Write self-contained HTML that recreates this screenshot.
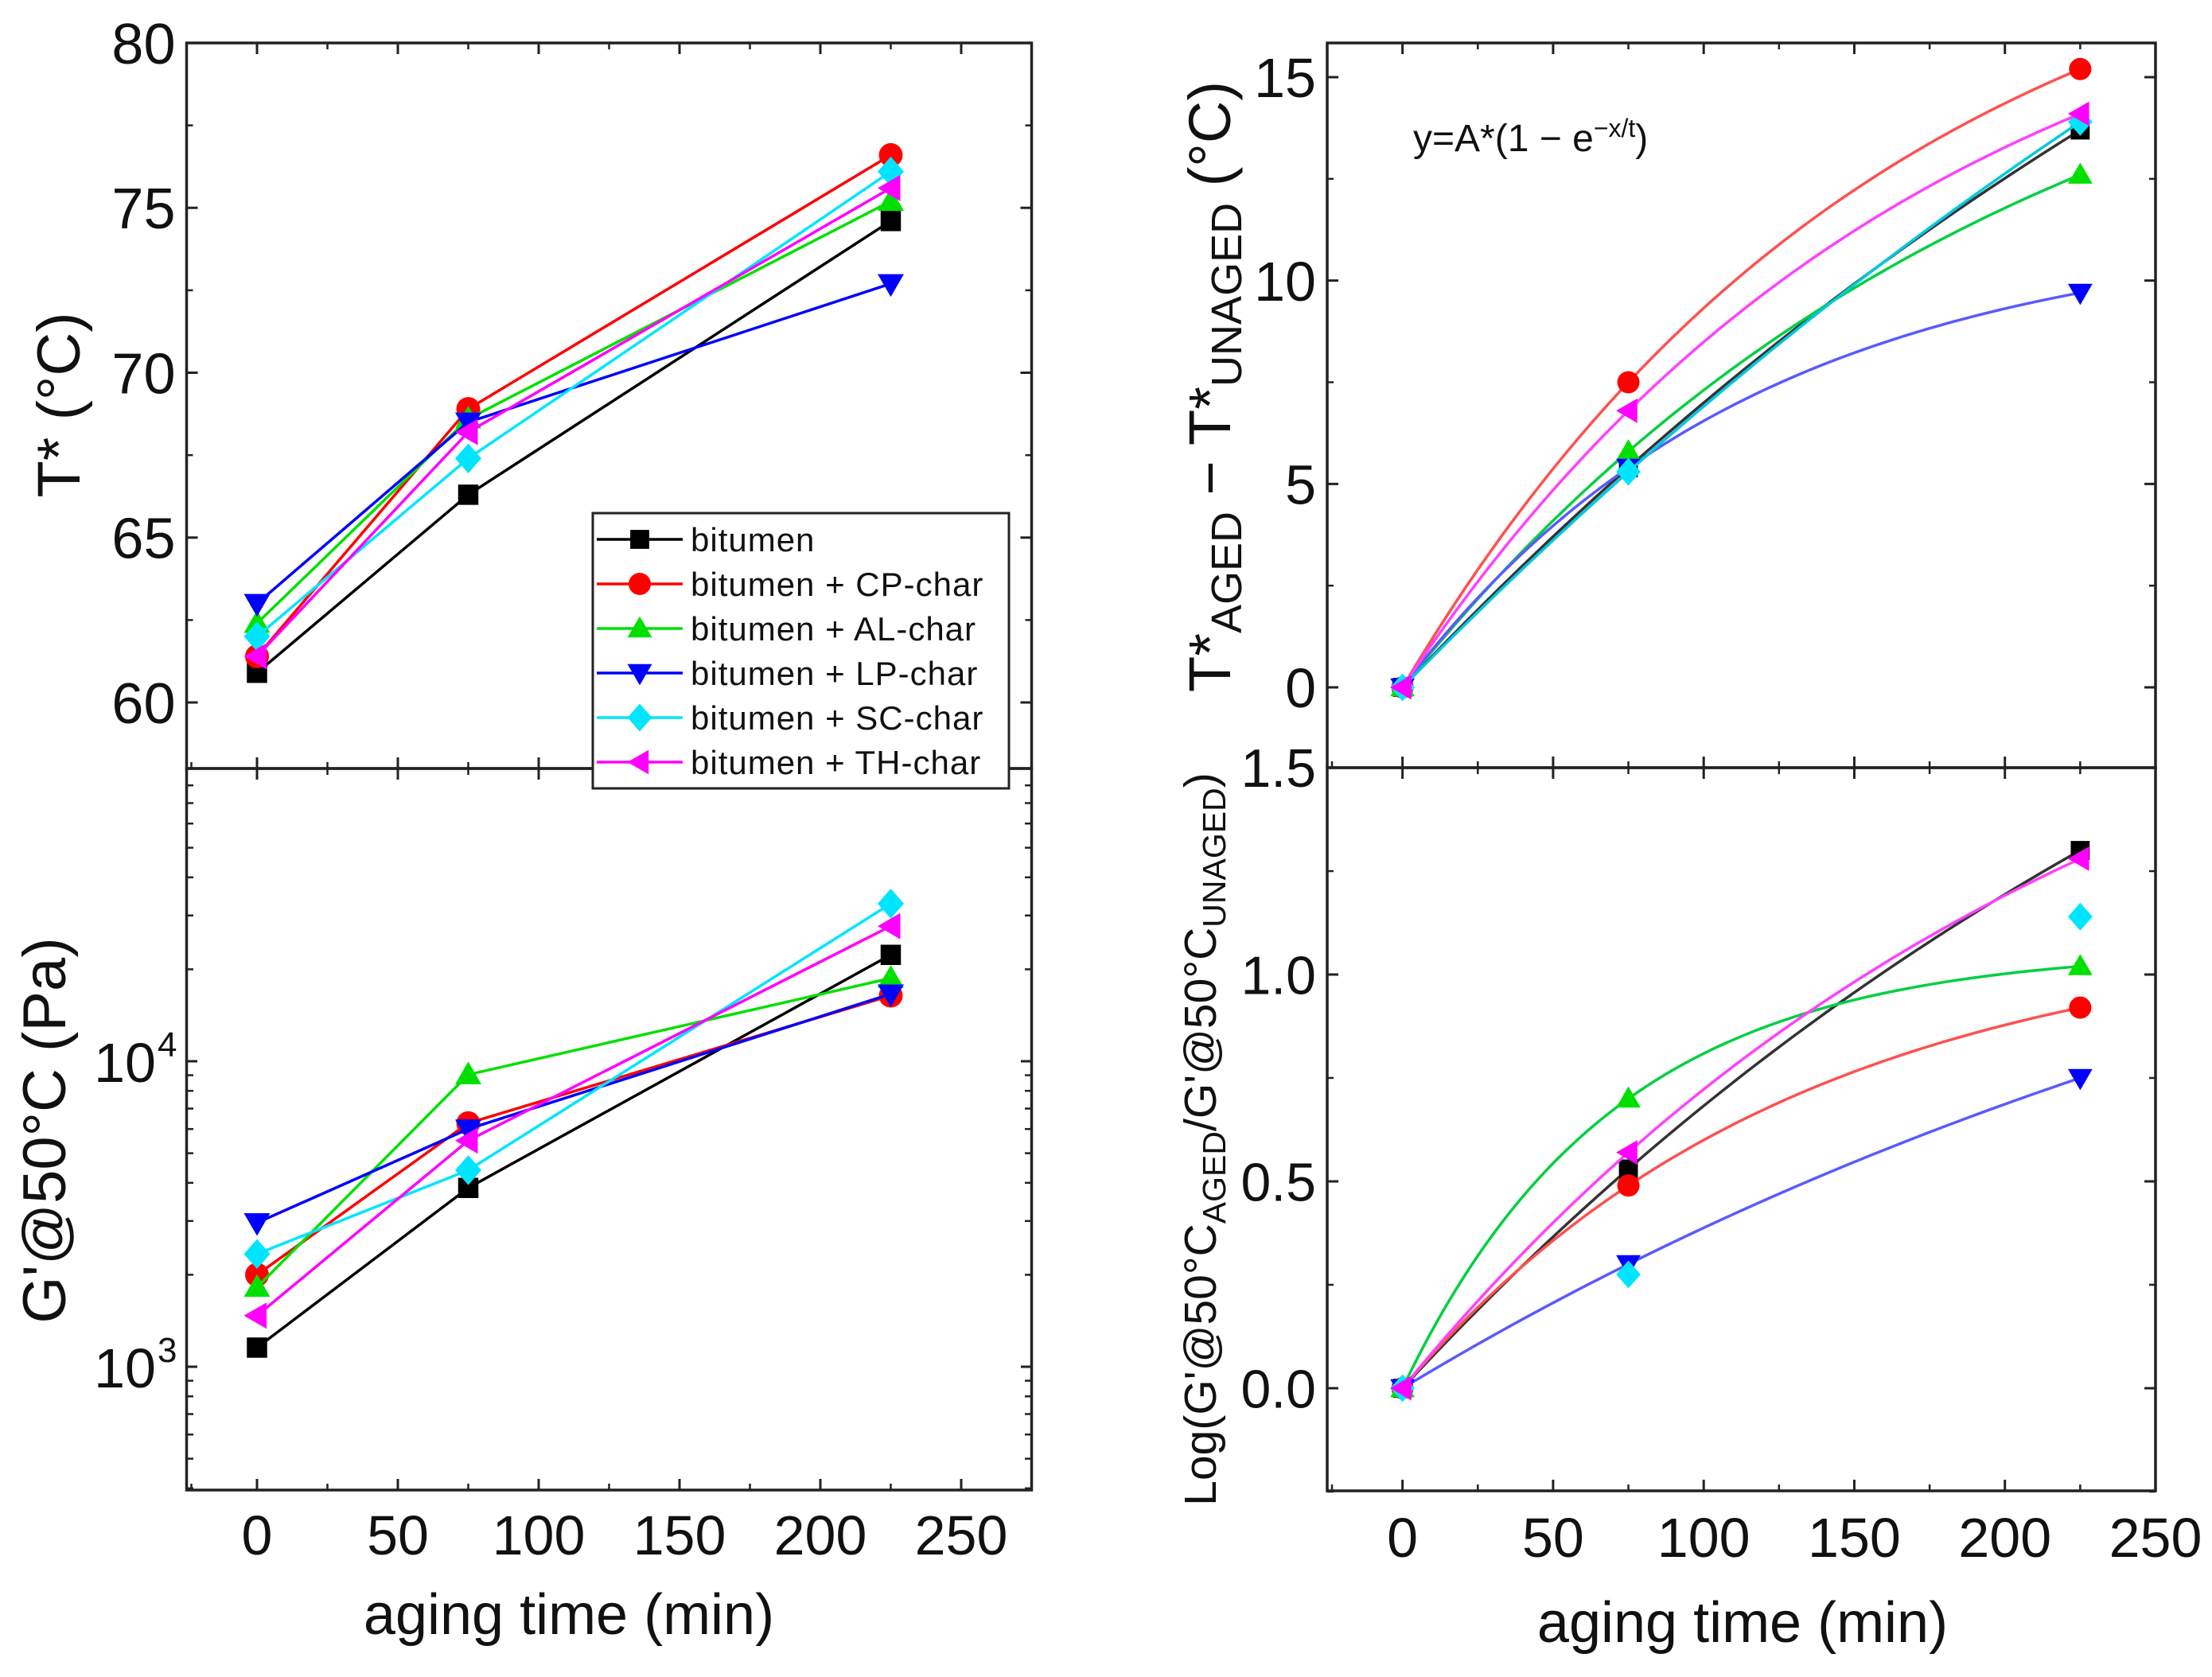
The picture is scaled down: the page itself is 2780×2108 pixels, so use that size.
<!DOCTYPE html>
<html><head><meta charset="utf-8"><style>
html,body{margin:0;padding:0;background:#fff}
svg{display:block;font-family:"Liberation Sans",Arial,sans-serif}
</style></head><body>
<svg id="chart" width="2780" height="2108" viewBox="0 0 2780 2108" xmlns="http://www.w3.org/2000/svg"></svg>
<script>
const times = [0, 75, 225];
const seriesNames = ["bitumen","bitumen + CP-char","bitumen + AL-char","bitumen + LP-char","bitumen + SC-char","bitumen + TH-char"];
const tStar = [[60.9,66.3,74.6],[61.4,68.9,76.6],[62.4,68.6,75.2],[63.0,68.5,72.7],[62.0,67.4,76.1],[61.4,68.2,75.6]];
const gPrime = [[1155,3850,22300],[2000,6270,16400],[1820,9040,18700],[2960,6000,16600],[2340,4400,32800],[1470,5500,27700]];
const dT = [[0,5.4,13.7],[0,7.5,15.2],[0,5.8,12.6],[0,5.4,9.7],[0,5.3,13.9],[0,6.8,14.1]];
const logRatio = [[0,0.53,1.30],[0,0.49,0.92],[0,0.70,1.02],[0,0.30,0.75],[0,0.275,1.14],[0,0.57,1.28]];
const logFitted = [true,true,true,true,false,true];
const xTicks = [0,50,100,150,200,250];
const tTicks = [60,65,70,75,80];
const gTicks = [3,4];
const dTTicks = [0,5,10,15];
const lrTicks = [0.0,0.5,1.0,1.5];

const colors = ["#000000","#ff0000","#00e000","#0000ff","#00e5ff","#ff00ff"];
const fitColors = ["#333333","#ff5050","#00d040","#5a5aff","#00c8e0","#ff40ff"];
const markers = ["square","circle","up","down","diamond","left"];
const NS="http://www.w3.org/2000/svg";
const svg=document.getElementById('chart');
function el(tag,attrs,parent){const e=document.createElementNS(NS,tag);for(const k in attrs)e.setAttribute(k,attrs[k]);(parent||svg).appendChild(e);return e;}
function lin(d0,d1,p0,p1){return v=>p0+(v-d0)*(p1-p0)/(d1-d0);}

const xL=lin(-25,275,234.5,1296.5);
const xR=lin(-25,250,1668,2709);
const yT=lin(60,80,883,54);
const yG=v=>1718-(Math.log10(v)-3)*384;
const yDT=lin(0,15,864,97);
const yLR=lin(0,1.5,1745,965);

function marker(g,type,cx,cy,color,s){
  let m;
  if(type==="square") m=el('rect',{x:cx-s*0.85,y:cy-s*0.85,width:s*1.7,height:s*1.7,fill:color},g);
  else if(type==="circle") m=el('circle',{cx:cx,cy:cy,r:s,fill:color},g);
  else {
    let p;
    if(type==="up") p=[[cx,cy-s*1.1],[cx+s*1.1,cy+s*0.8],[cx-s*1.1,cy+s*0.8]];
    else if(type==="down") p=[[cx,cy+s*1.1],[cx+s*1.1,cy-s*0.8],[cx-s*1.1,cy-s*0.8]];
    else if(type==="left") p=[[cx-s*1.1,cy],[cx+s*0.8,cy-s*1.1],[cx+s*0.8,cy+s*1.1]];
    else p=[[cx,cy-s*1.25],[cx+s*1.1,cy],[cx,cy+s*1.25],[cx-s*1.1,cy]];
    m=el('polygon',{points:p.map(a=>a.join(',')).join(' '),fill:color},g);
  }
  return m;
}
function frame(x0,y0,x1,y1,name){
  const r=el('rect',{x:x0,y:y0,width:x1-x0,height:y1-y0,fill:"none",stroke:"#222","stroke-width":3.5});
  
  
}
function xTicksDraw(xs,y0,y1,labelY,name,showLabels){
  const g=el('g',{});
  
  
  xTicks.forEach(v=>{
    const x=xs(v);
    el('line',{x1:x,y1:y1,x2:x,y2:y1-14,stroke:"#222","stroke-width":3},g);
    el('line',{x1:x,y1:y0,x2:x,y2:y0+14,stroke:"#222","stroke-width":3},g);
    const xm=xs(v+25);
    if(v+25<=xTicks[xTicks.length-1]+25){
      el('line',{x1:xm,y1:y1,x2:xm,y2:y1-8,stroke:"#222","stroke-width":2.5},g);
      el('line',{x1:xm,y1:y0,x2:xm,y2:y0+8,stroke:"#222","stroke-width":2.5},g);
    }
    if(showLabels){
      const t=el('text',{x:x,y:labelY,"font-size":70,"text-anchor":"middle",fill:"#111"},g);
      t.textContent=v;
    }
  });
  el('line',{x1:xs(-25)+6,y1:y1,x2:xs(-25)+6,y2:y1-8,stroke:"#222","stroke-width":2.5},g);
}
function yTicksDraw(vals,ys,x0,x1,fmt,fs,name,minor){
  const g=el('g',{});
  
  
  vals.forEach(v=>{
    const y=ys(v);
    el('line',{x1:x0,y1:y,x2:x0+14,y2:y,stroke:"#222","stroke-width":3},g);
    el('line',{x1:x1,y1:y,x2:x1-14,y2:y,stroke:"#222","stroke-width":3},g);
    const t=el('text',{x:x0-14,y:y+fs*0.36,"font-size":fs,"text-anchor":"end",fill:"#111"},g);
    t.textContent=fmt(v);
  });
  minor.forEach(v=>{
    const y=ys(v);
    el('line',{x1:x0,y1:y,x2:x0+8,y2:y,stroke:"#222","stroke-width":2.5},g);
    el('line',{x1:x1,y1:y,x2:x1-8,y2:y,stroke:"#222","stroke-width":2.5},g);
  });
}

frame(234.5,54,1296.5,966,"t-star-plot-frame");
frame(234.5,966,1296.5,1873,"g-prime-plot-frame");
frame(1668,54,2709,965,"delta-t-plot-frame");
frame(1668,965,2709,1874,"log-ratio-plot-frame");

xTicksDraw(xL,54,966,0,"t-star-x-ticks",false);
xTicksDraw(xL,966,1873,1954,"g-prime-x-axis",true);
xTicksDraw(xR,54,965,0,"delta-t-x-ticks",false);
xTicksDraw(xR,965,1874,1957,"log-ratio-x-axis",true);

yTicksDraw(tTicks,yT,234.5,1296.5,v=>v,72,"t-star-y-axis",[62.5,67.5,72.5,77.5]);
yTicksDraw(dTTicks,yDT,1668,2709,v=>v,70,"delta-t-y-axis",[2.5,7.5,12.5]);
yTicksDraw(lrTicks.slice(0,3),yLR,1668,2709,v=>v.toFixed(1),68,"log-ratio-y-axis",[-0.25,0.25,0.75,1.25]);
{ const t=el('text',{x:1654,y:yLR(1.5)+24,"font-size":68,"text-anchor":"end",fill:"#111"}); t.textContent="1.5";
    }

{
  const g=el('g',{});
  
  
  gTicks.forEach(e=>{
    const y=yG(Math.pow(10,e));
    el('line',{x1:234.5,y1:y,x2:248,y2:y,stroke:"#222","stroke-width":3},g);
    el('line',{x1:1296.5,y1:y,x2:1283,y2:y,stroke:"#222","stroke-width":3},g);
    const t=el('text',{x:196,y:y+26,"font-size":70,"text-anchor":"end",fill:"#111"},g);
    t.textContent="10";
    const s=el('text',{x:198,y:y-6,"font-size":44,"text-anchor":"start",fill:"#111"},g);
    s.textContent=e;
  });
  for(let e=2;e<=4;e++)for(let k=2;k<=9;k++){
    const v=k*Math.pow(10,e); const y=yG(v);
    if(y<970||y>1872) continue;
    el('line',{x1:234.5,y1:y,x2:243,y2:y,stroke:"#222","stroke-width":2.5},g);
    el('line',{x1:1296.5,y1:y,x2:1288,y2:y,stroke:"#222","stroke-width":2.5},g);
  }
}

function title(txt,x,y,fs,rot,name){
  const t=el('text',{x:x,y:y,"font-size":fs,"text-anchor":"middle",fill:"#111",transform:rot?`rotate(-90 ${x} ${y})`:""});
  
  
  if(typeof txt==="string") t.textContent=txt; else txt(t);
  return t;
}
title("T* (°C)",100,509,76,true,"t-star-y-title");
title("G'@50°C (Pa)",82,1421,76,true,"g-prime-y-title");
title("aging time (min)",715,2054,72,false,"left-x-axis-title");
title("aging time (min)",2190,2064,72,false,"right-x-axis-title");
title(t=>{
  const parts=[["T*",0,74],["AGED",14,54],[" − T*",-14,74],["UNAGED",14,54],[" (°C)",-14,74]];
  parts.forEach(p=>{const s=el('tspan',{dy:p[1],"font-size":p[2]},t);s.textContent=p[0];});
},1546,486,74,true,"delta-t-y-title");
title(t=>{
  const parts=[["Log(G'@50°C",0,57],["AGED",12,41],["/G'@50°C",-12,57],["UNAGED",12,41],[")",-12,57]];
  parts.forEach(p=>{const s=el('tspan',{dy:p[1],"font-size":p[2]},t);s.textContent=p[0];});
},1528,1432,57,true,"log-ratio-y-title");

{
  const t=el('text',{x:1776,y:190,"font-size":48,fill:"#111"});
  
  
  const a=el('tspan',{},t); a.textContent="y=A*(1 − e";
  const b=el('tspan',{dy:-18,"font-size":32},t); b.textContent="−x/t";
  const c=el('tspan',{dy:18},t); c.textContent=")";
}

function linePanel(data,xs,ys,prefix){
  data.forEach((vals,i)=>{
    const g=el('g',{});
    
    
    const pts=times.map((t,j)=>[xs(t),ys(vals[j])]);
    el('polyline',{points:pts.map(p=>p.join(',')).join(' '),fill:"none",stroke:colors[i],"stroke-width":3.5},g);
    pts.forEach(p=>marker(g,markers[i],p[0],p[1],colors[i],15));
  });
}
linePanel(tStar,xL,yT,"t-star");
linePanel(gPrime,xL,yG,"g-prime");

function fitCurve(vals){
  const y1=vals[1],y2=vals[2];
  let r=y2/y1; if(r>2.97) r=2.97;
  const q=(-1+Math.sqrt(1-4*(1-r)))/2;
  const tau=-75/Math.log(q);
  const A=y1/(1-q);
  return x=>A*(1-Math.exp(-x/tau));
}
function fitPanel(data,xs,ys,prefix,fitted){
  data.forEach((vals,i)=>{
    const g=el('g',{});
    
    
    if(fitted[i]){
      const f=fitCurve(vals); const pts=[];
      for(let x=0;x<=225;x+=3) pts.push([xs(x),ys(f(x))]);
      el('polyline',{points:pts.map(p=>p.join(',')).join(' '),fill:"none",stroke:fitColors[i],"stroke-width":3.5},g);
    }
    times.forEach((t,j)=>marker(g,markers[i],xs(t),ys(vals[j]),colors[i],14));
  });
}
fitPanel(dT,xR,yDT,"delta-t",[true,true,true,true,true,true]);
fitPanel(logRatio,xR,yLR,"log-ratio",logFitted);

{
  const g=el('g',{});
  
  
  el('rect',{x:745,y:645,width:523,height:346,fill:"#fff",stroke:"#222","stroke-width":3},g);
  seriesNames.forEach((n,i)=>{
    const y=678+i*56;
    const e=el('g',{},g);
    
    
    el('line',{x1:750,y1:y,x2:858,y2:y,stroke:colors[i],"stroke-width":3.5},e);
    marker(e,markers[i],804,y,colors[i],14);
    const t=el('text',{x:868,y:y+15,"font-size":42,fill:"#111","letter-spacing":"1"},e);
    t.textContent=n;
  });
}
</script>
</body></html>
